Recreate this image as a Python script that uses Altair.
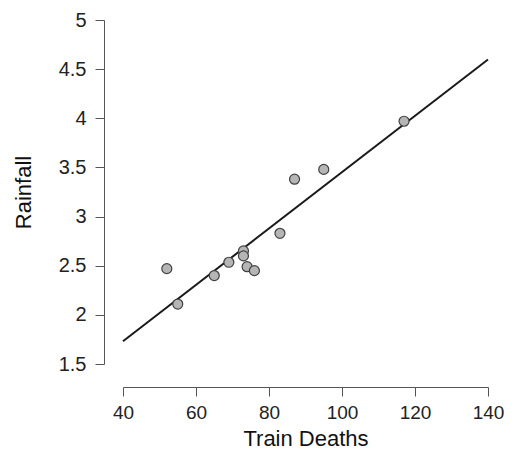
import altair as alt
import pandas as pd

train_deaths = [52, 55, 65, 69, 73, 73, 74, 76, 83, 87, 95, 117]
rainfall = [2.47, 2.11, 2.40, 2.535, 2.65, 2.60, 2.49, 2.45, 2.83, 3.38, 3.48, 3.97]
x_ticks = [40, 60, 80, 100, 120, 140]
y_ticks = [1.5, 2, 2.5, 3, 3.5, 4, 4.5, 5]

df = pd.DataFrame({"deaths": train_deaths, "rain": rainfall})

FONT = "Liberation Sans"

x_enc = alt.X("deaths:Q", scale=alt.Scale(domain=[40, 140], nice=False, zero=False),
              axis=alt.Axis(title="Train Deaths", values=x_ticks, offset=23, tickSize=9,
                            labelPadding=7, titlePadding=6, labelFontSize=19, titleFontSize=22,
                            labelFlush=False))
y_enc = alt.Y("rain:Q", scale=alt.Scale(domain=[1.5, 5], nice=False, zero=False),
              axis=alt.Axis(title="Rainfall", values=y_ticks, format=".1~f", offset=19, tickSize=9,
                            labelPadding=9, titlePadding=23, labelFontSize=20, titleFontSize=22,
                            labelFlush=False))

base = alt.Chart(df)

line = base.transform_regression("deaths", "rain", extent=[40, 140]).mark_line(
    color="#1a1a1a", strokeWidth=2, clip=False
).encode(x=x_enc, y=y_enc)

points = base.mark_point(
    shape="circle", filled=True, size=100, fill="#b5b5b5", stroke="#404040",
    strokeWidth=1.2, opacity=1
).encode(x=x_enc, y=y_enc)

chart = alt.layer(line, points).properties(
    width=365, height=344,
    autosize=alt.AutoSizeParams(type="none"),
    padding={"left": 115, "top": 12, "right": 16, "bottom": 87},
).configure_view(stroke=None).configure_axis(
    grid=False, domainColor="#555555", tickColor="#555555", labelColor="#222222",
    titleColor="#111111", labelFont=FONT, titleFont=FONT, titleFontWeight="normal",
    domainWidth=1, tickWidth=1
)

chart.save("out.html", embed_options={"renderer": "svg", "actions": False})
